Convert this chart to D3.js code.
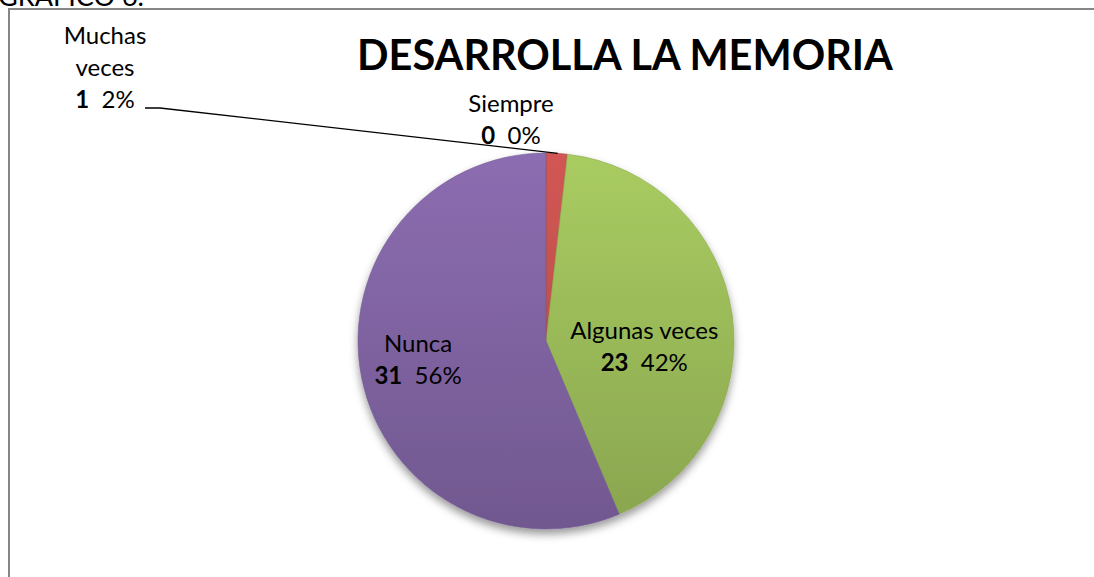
<!DOCTYPE html>
<html>
<head>
<meta charset="utf-8">
<script src="https://cdn.jsdelivr.net/npm/d3@7"></script>
<style>
  body { margin: 0; background: #fff; }
  text { font-family: Lato, "Open Sans", sans-serif; fill: #000; }
</style>
</head>
<body>
<script>
// datos del grafico
var categories = ["Siempre", "Muchas veces", "Algunas veces", "Nunca"];
var values = [0, 1, 23, 31];
var percents = ["0%", "2%", "42%", "56%"];
var colors = ["#4F81BD", "#C0504D", "#9BBB59", "#8064A2"];

var width = 1094, height = 577;
var cx = 546, cy = 341, radius = 188;

var svg = d3.select("body").append("svg")
  .attr("width", width)
  .attr("height", height);

var defs = svg.append("defs");

// sombra
var f = defs.append("filter").attr("id", "shadow")
  .attr("x", "-20%").attr("y", "-20%").attr("width", "140%").attr("height", "140%");
f.append("feDropShadow").attr("dx", 0).attr("dy", 5).attr("stdDeviation", 4)
  .attr("flood-color", "#000").attr("flood-opacity", 0.4);

colors.forEach(function(c, i) {
  var gr = defs.append("linearGradient").attr("id", "grad" + i)
    .attr("gradientUnits", "userSpaceOnUse")
    .attr("x1", 0).attr("y1", -radius).attr("x2", 0).attr("y2", radius);
  gr.append("stop").attr("offset", "0%").attr("stop-color", d3.color(c).brighter(0.25));
  gr.append("stop").attr("offset", "100%").attr("stop-color", d3.color(c).darker(0.35));
});

// marco
svg.append("path")
  .attr("d", "M9," + height + "V9H" + width)
  .attr("fill", "none")
  .attr("stroke", "#868686")
  .attr("stroke-width", 2);

svg.append("text")
  .attr("x", -2).attr("y", 6)
  .attr("font-size", 27)
  .text("GRÁFICO 6.");

var title = svg.append("text")
  .attr("x", 625).attr("y", 70)
  .attr("text-anchor", "middle")
  .attr("font-weight", "bold")
  .attr("font-size", 44)
  .text("DESARROLLA LA MEMORIA");
var tw = title.node().getComputedTextLength();
title.attr("font-size", 44 * 536 / tw);

var pie = d3.pie().sort(null).value(function(d) { return d; });
var arcs = pie(values);
var arc = d3.arc().innerRadius(0).outerRadius(radius);

var g = svg.append("g").attr("transform", "translate(" + cx + "," + cy + ")");
g.append("g").attr("filter", "url(#shadow)")
  .selectAll("path")
  .data(arcs)
  .enter()
  .append("path")
  .attr("d", arc)
  .attr("fill", function(d, i) { return "url(#grad" + i + ")"; })
  .attr("stroke", function(d, i) { return d3.color(colors[i]).darker(0.3); })
  .attr("stroke-width", function(d) { return d.value > 0 ? 0.6 : 0; });

// etiquetas
var labelArc = d3.arc().innerRadius(radius * 0.7).outerRadius(radius * 0.7);
var labelPos = [
  { x: 511 - cx, y: 112 - cy, lines: ["Siempre"] },
  { x: 105 - cx, y: 44 - cy, lines: ["Muchas", "veces"] },
  null,
  null
];

arcs.forEach(function(d, i) {
  var p;
  var lines;
  if (labelPos[i]) {
    p = [labelPos[i].x, labelPos[i].y];
    lines = labelPos[i].lines;
  } else {
    var c = labelArc.centroid(d);
    if (i === 2) { c = [c[0] - 32, c[1] + 17]; }
    else { c = [c[0] + 1, c[1] - 15]; }
    p = c;
    lines = [categories[i]];
  }
  var t = g.append("text")
    .attr("text-anchor", "middle")
    .attr("font-size", 24)
    .attr("x", p[0]).attr("y", p[1]);
  lines.forEach(function(l, k) {
    t.append("tspan").attr("x", p[0]).attr("dy", k === 0 ? 0 : 32).text(l);
  });
  var v = t.append("tspan").attr("x", p[0]).attr("dy", 32);
  v.append("tspan").attr("font-weight", "bold").text(values[i]);
  v.append("tspan").text("\u00a0\u00a0" + percents[i]);
});

// linea guia de "Muchas veces"
var edge = d3.arc().innerRadius(radius).outerRadius(radius).centroid(arcs[1]);
g.append("path")
  .attr("d", d3.line()([[145 - cx, 108 - cy], [160 - cx, 108 - cy], [edge[0] + 1, edge[1]]]))
  .attr("fill", "none")
  .attr("stroke", "#000")
  .attr("stroke-width", 1.3);
</script>
</body>
</html>
